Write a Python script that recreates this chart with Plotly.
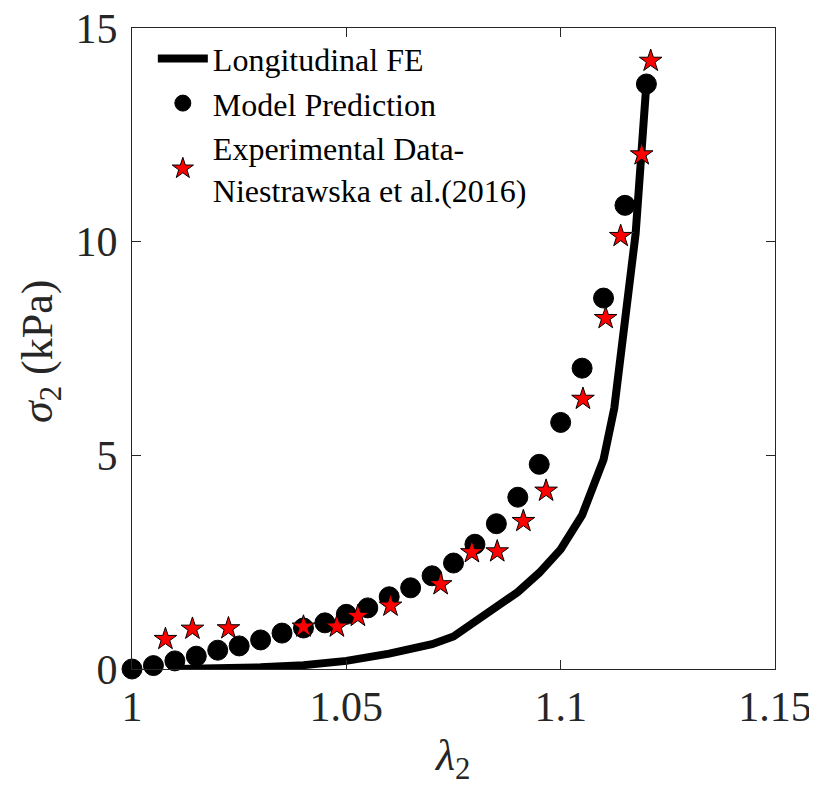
import plotly.graph_objects as go

# Longitudinal FE curve
fe_x = [1.0103, 1.02, 1.03, 1.04, 1.05, 1.06, 1.07, 1.075, 1.08, 1.085, 1.09,
        1.095, 1.10, 1.105, 1.11, 1.1125, 1.115, 1.1175, 1.12]
fe_y = [0.0, 0.01, 0.04, 0.09, 0.19, 0.36, 0.58, 0.76, 1.1, 1.45, 1.8,
        2.25, 2.8, 3.6, 4.9, 6.1, 8.1, 10.2, 13.7]

# Model prediction
model_x = [1.000, 1.005, 1.010, 1.015, 1.020, 1.025, 1.030, 1.035, 1.040, 1.045,
           1.050, 1.055, 1.060, 1.065, 1.070, 1.075, 1.080, 1.085, 1.090, 1.095,
           1.100, 1.105, 1.110, 1.115, 1.120]
model_y = [0.0, 0.08, 0.19, 0.30, 0.44, 0.54, 0.68, 0.84, 0.96, 1.08,
           1.28, 1.43, 1.69, 1.90, 2.18, 2.48, 2.92, 3.40, 4.02, 4.79,
           5.77, 7.04, 8.68, 10.85, 13.69]

# Experimental data
exp_x = [1.0078, 1.0141, 1.0225, 1.0400, 1.0478, 1.0527, 1.0603, 1.0720, 1.0793,
         1.0852, 1.0913, 1.0966, 1.1052, 1.1105, 1.1140, 1.1189, 1.1210]
exp_y = [0.70, 0.94, 0.95, 0.99, 0.99, 1.24, 1.48, 1.98, 2.73,
         2.75, 3.46, 4.17, 6.32, 8.21, 10.13, 12.04, 14.23]

x_ticks = [1, 1.05, 1.1, 1.15]
x_tick_labels = ["1", "1.05", "1.1", "1.15"]
y_ticks = [0, 5, 10, 15]
y_tick_labels = ["0", "5", "10", "15"]

FONT = "Liberation Serif"
DARK = "#262626"

fig = go.Figure()
fig.add_trace(go.Scatter(
    x=fe_x, y=fe_y, mode="lines", name="Longitudinal FE",
    line=dict(color="black", width=8),
))
fig.add_trace(go.Scatter(
    x=model_x, y=model_y, mode="markers", name="Model Prediction",
    marker=dict(symbol="circle", size=20, color="black",
                line=dict(color="black", width=1)),
    cliponaxis=False,
))
fig.add_trace(go.Scatter(
    x=exp_x, y=exp_y, mode="markers",
    name="Experimental Data-<br>Niestrawska et al.(2016)",
    marker=dict(symbol="star", size=17, color="red",
                line=dict(color="black", width=1)),
    cliponaxis=False,
))

axis_common = dict(
    showgrid=False, zeroline=False, showline=True, linecolor=DARK,
    linewidth=1, mirror="ticks", ticks="inside", ticklen=9, tickwidth=1,
    tickcolor=DARK, tickfont=dict(family=FONT, size=42, color=DARK),
    automargin=False, ticklabeloverflow="allow",
)

# The page body keeps the browser's default 8px margin, so the figure is
# sized 8px smaller in each direction to fit the 817x791 window.
fig.update_layout(
    width=809, height=783,
    margin=dict(l=124, r=42, t=20, b=122),
    paper_bgcolor="white", plot_bgcolor="white",
    font=dict(family=FONT, color=DARK),
    xaxis=dict(range=[1, 1.15], tickvals=x_ticks, ticktext=x_tick_labels,
               ticklabelstandoff=1, **axis_common),
    yaxis=dict(range=[0, 15], tickvals=y_ticks, ticktext=y_tick_labels,
               ticklabelstandoff=5, **axis_common),
    legend=dict(x=0.0324, y=0.995, xanchor="left", yanchor="top",
                bgcolor="rgba(255,255,255,0)", borderwidth=0,
                font=dict(family=FONT, size=32, color="black"),
                itemwidth=50, tracegroupgap=0),
    showlegend=True,
    annotations=[
        dict(text="<i>λ</i><sub>2</sub>", xref="paper", yref="paper",
             x=0.4977, y=-0.14, xanchor="center", yanchor="middle",
             showarrow=False, font=dict(family=FONT, size=44, color=DARK)),
        dict(text="<i>σ</i><sub>2</sub> (kPa)", xref="paper", yref="paper",
             x=-0.143, y=0.4945, xanchor="center", yanchor="middle",
             textangle=-90, showarrow=False,
             font=dict(family=FONT, size=44, color=DARK)),
    ],
)

fig.write_html("out.html")
